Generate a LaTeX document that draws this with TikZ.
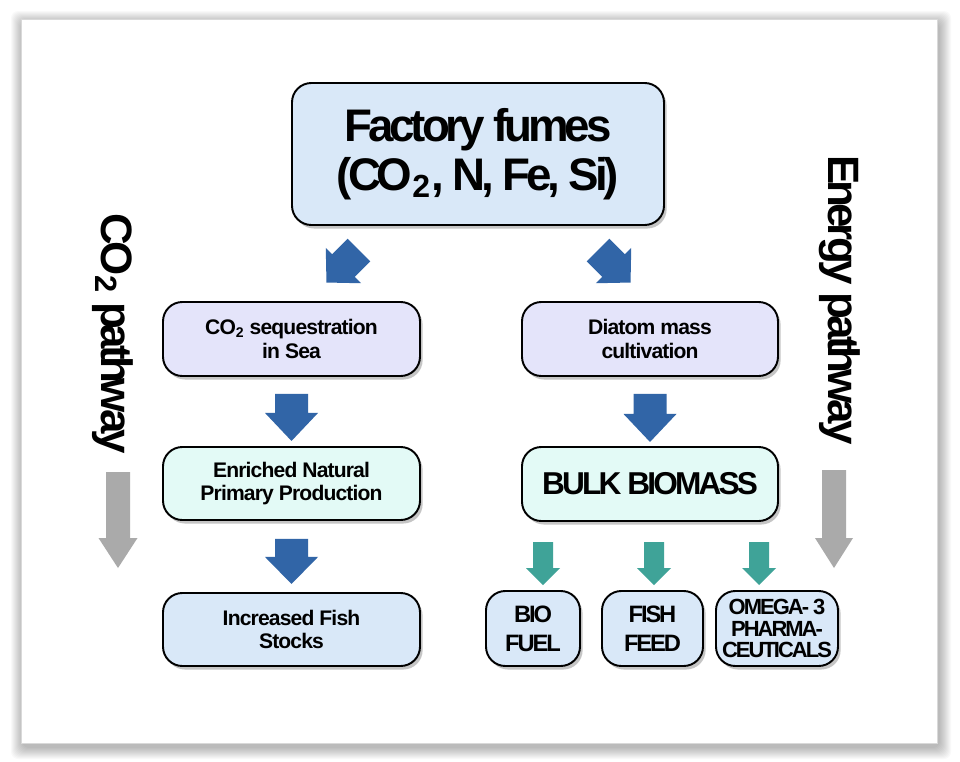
\documentclass[tikz,border=0pt]{standalone}
\usepackage{fontspec}
\setmainfont{Liberation Sans}[LetterSpace=-4]
\newfontfamily\tightfont{Liberation Sans}[LetterSpace=-9]
\usetikzlibrary{calc,shadows}

\definecolor{skyfill}{RGB}{217,232,248}
\definecolor{lavfill}{RGB}{228,228,250}
\definecolor{mintfill}{RGB}{227,250,246}
\definecolor{bluearr}{RGB}{49,101,167}
\definecolor{tealarr}{RGB}{63,163,152}
\definecolor{grayarr}{RGB}{170,170,170}

\tikzset{
  pics/blockarrow/.style args={#1/#2/#3/#4}{code={
    \fill (-#2/2,0) -- (#2/2,0) -- (#2/2,-#1+#4) -- (#3/2,-#1+#4) -- (0,-#1)
      -- (-#3/2,-#1+#4) -- (-#2/2,-#1+#4) -- cycle;
  }}
}

\begin{document}
\begin{tikzpicture}[x=0.02cm,y=0.02cm,
  box/.style={draw,line width=1.1pt,rounded corners=11pt,align=center,inner sep=0pt,
    drop shadow={shadow xshift=1.5pt,shadow yshift=-2pt,opacity=0.45}},
  boxsize/.style 2 args={minimum width=#1*0.02cm,minimum height=#2*0.02cm},
  midfont/.style={font=\bfseries\fontsize{12}{13.5}\selectfont},
  smallfont/.style={font=\tightfont\bfseries\fontsize{13.5}{16.5}\selectfont},
  sidefont/.style={font=\tightfont\bfseries\fontsize{25}{28}\selectfont}]
  % page and panel with its shadow
  \fill[white] (0,0) rectangle (960,-761);
  \foreach \i in {1,...,12}
    \fill[black,opacity=0.025,rounded corners=4pt]
      (21-\i+2,-19+\i-4) rectangle (937+\i+2,-743-\i-4);
  \fill[white] (21,-19) rectangle (937,-743);
  \draw[gray!30,line width=0.4pt] (21,-19) rectangle (937,-743);
  % top box
  \node[box,fill=skyfill,boxsize={372}{142},
    font=\tightfont\bfseries\fontsize{26}{28}\selectfont] (fumes) at (478,-154)
    {Factory fumes\\(CO\textsubscript{2}, N, Fe, Si)};
  \pic[color=bluearr,rotate=-45] at (359,-250) {blockarrow=46/32/50/24};
  \pic[color=bluearr,rotate=45] at (598,-250) {blockarrow=46/32/50/24};
  % CO2 column
  \node[box,fill=lavfill,boxsize={257}{74},midfont] (seq) at (291.5,-339)
    {CO\textsubscript{2} sequestration\\in Sea};
  \node[box,fill=mintfill,boxsize={257}{73},midfont] (enr) at (291.5,-483.5)
    {Enriched Natural\\Primary Production};
  \node[box,fill=skyfill,boxsize={257}{73},midfont] (fish) at (291.5,-629.5)
    {Increased Fish\\Stocks};
  \pic[color=bluearr] at ($(seq.south)+(0,-17)$) {blockarrow=47/33/53/28};
  \pic[color=bluearr] at ($(enr.south)+(0,-18)$) {blockarrow=45/33/53/27};
  % energy column
  \node[box,fill=lavfill,boxsize={256}{74},midfont] (diatom) at (650,-339)
    {Diatom mass\\cultivation};
  \node[box,fill=mintfill,boxsize={256}{74},
    font=\tightfont\bfseries\fontsize{18}{20}\selectfont] (bulk) at (650,-484) {BULK BIOMASS};
  \pic[color=bluearr] at ($(diatom.south)+(0,-17)$) {blockarrow=48/33/53/28};
  \node[box,fill=skyfill,boxsize={94}{75},smallfont] (fuel) at (533,-628.5) {BIO\\FUEL};
  \node[box,fill=skyfill,boxsize={101}{75},smallfont] (feed) at (652.5,-628.5) {FISH\\FEED};
  \node[box,fill=skyfill,boxsize={122}{75},
    font=\tightfont\bfseries\fontsize{12.5}{12}\selectfont] (omega) at (777,-628.5)
    {OMEGA- 3\\PHARMA-\\CEUTICALS};
  \foreach \x in {543,654,759}
    \pic[color=tealarr] at (\x,-542) {blockarrow=43/20/34/17};
  % pathway labels
  \node[rotate=-90,sidefont] (co2lab) at (113,-334) {CO\textsubscript{2} pathway};
  \node[rotate=-90,sidefont] (energylab) at (840,-300) {Energy pathway};
  \pic[color=grayarr] at (118,-472) {blockarrow=96/24/39/30};
  \pic[color=grayarr] at (834,-470) {blockarrow=98/24/38/30};
\end{tikzpicture}
\end{document}
